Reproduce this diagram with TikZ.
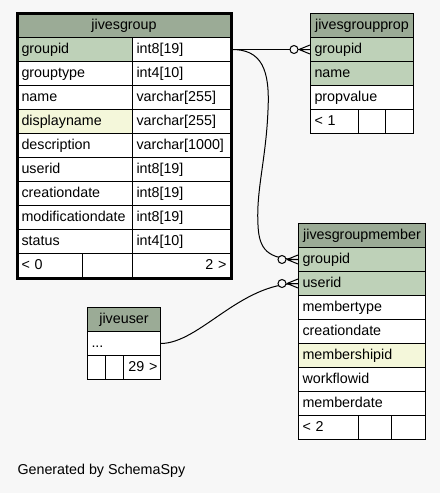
\documentclass[tikz,border=0pt]{standalone}
\usepackage{fontspec}
\setmainfont{Liberation Sans}
\definecolor{bgcol}{HTML}{F7F7F7}
\definecolor{headcol}{HTML}{9BAB96}
\definecolor{keycol}{HTML}{BED1B8}
\definecolor{idxcol}{HTML}{F4F7DA}
\tikzset{
  cell/.style={draw, fill=white, anchor=north west, text width=#1, minimum height=24pt,
    inner xsep=4pt, inner ysep=0pt, text height=10.5pt, text depth=3pt, align=left},
  rcell/.style={cell=#1, align=right},
  head/.style={draw, fill=headcol, anchor=north west, minimum width=#1, minimum height=24pt,
    inner sep=0pt, text height=10.5pt, text depth=3pt},
  crowodot/.pic={
    \draw (-11,0) -- (0,4.5) (-11,0) -- (0,0) (-11,0) -- (0,-4.5);
    \draw[fill=bgcol] (-16,0) circle (4);
  }
}

\begin{document}
\begin{tikzpicture}[x=1pt, y=-1pt, font=\fontsize{14.3}{16}\selectfont, line width=1pt]
    \fill[bgcol] (0,0) rectangle (440,493);

    % jivesgroup
    \node[head=213pt] (g) at (17,13) {jivesgroup};
    \foreach \n/\t/\c [count=\i] in {groupid/int8[19]/keycol, grouptype/int4[10]/white,
        name/varchar[255]/white, displayname/varchar[255]/idxcol,
        description/varchar[1000]/white, userid/int8[19]/white,
        creationdate/int8[19]/white, modificationdate/int8[19]/white, status/int4[10]/white}{
      \node[cell=107pt, fill=\c] (g\i) at (17,13+24*\i) {\n};
      \node[cell=90pt] (gt\i) at (132,13+24*\i) {\t};
    }
    \node[cell=57pt] (gf1) at (17,253) {< 0};
    \node[cell=42pt] (gf2) at (82,253) {};
    \node[rcell=90pt] (gf3) at (132,253) {2 >};
    \draw[line width=3pt] (g.north west) rectangle (gf3.south east);

    % jivesgroupprop
    \node[head=103pt] (p) at (310,13) {jivesgroupprop};
    \foreach \n/\c [count=\i] in {groupid/keycol, name/keycol, propvalue/white}{
      \node[cell=95pt, fill=\c] (p\i) at (310,13+24*\i) {\n};
    }
    \node[cell=40pt] (pf1) at (310,109) {< 1};
    \node[cell=19pt] (pf2) at (358,109) {};
    \node[cell=20pt] (pf3) at (385,109) {};

    % jivesgroupmember
    \node[head=127pt] (m) at (298,223) {jivesgroupmember};
    \foreach \n/\c [count=\i] in {groupid/keycol, userid/keycol, membertype/white,
        creationdate/white, membershipid/idxcol, workflowid/white, memberdate/white}{
      \node[cell=119pt, fill=\c] (m\i) at (298,223+24*\i) {\n};
    }
    \node[cell=52pt] (mf1) at (298,415) {< 2};
    \node[cell=25pt] (mf2) at (358,415) {};
    \node[cell=26pt] (mf3) at (391,415) {};

    % jiveuser
    \node[head=73pt] (u) at (87,307) {jiveuser};
    \node[cell=65pt] (u1) at (87,331) {...};
    \node[cell=10pt] (uf1) at (87,355) {};
    \node[cell=10pt] (uf2) at (105,355) {};
    \node[rcell=31pt, inner xsep=3pt] (uf3) at (123,355) {29 >};

    % relations
    \draw (gt1.east) -- (p1.west) pic {crowodot};
    \draw (gt1.east) .. controls (262,49) and (270,70) .. (268,110)
        .. controls (266,160) and (256,190) .. (258,225)
        .. controls (259,250) and (268,259) .. (m1.west) pic {crowodot};
    \draw (u1.east) .. controls (200,343) and (240,283) .. (m2.west) pic {crowodot};

    \node[anchor=west, inner sep=0pt] (gen) at (17,471) {Generated by SchemaSpy};
\end{tikzpicture}
\end{document}
